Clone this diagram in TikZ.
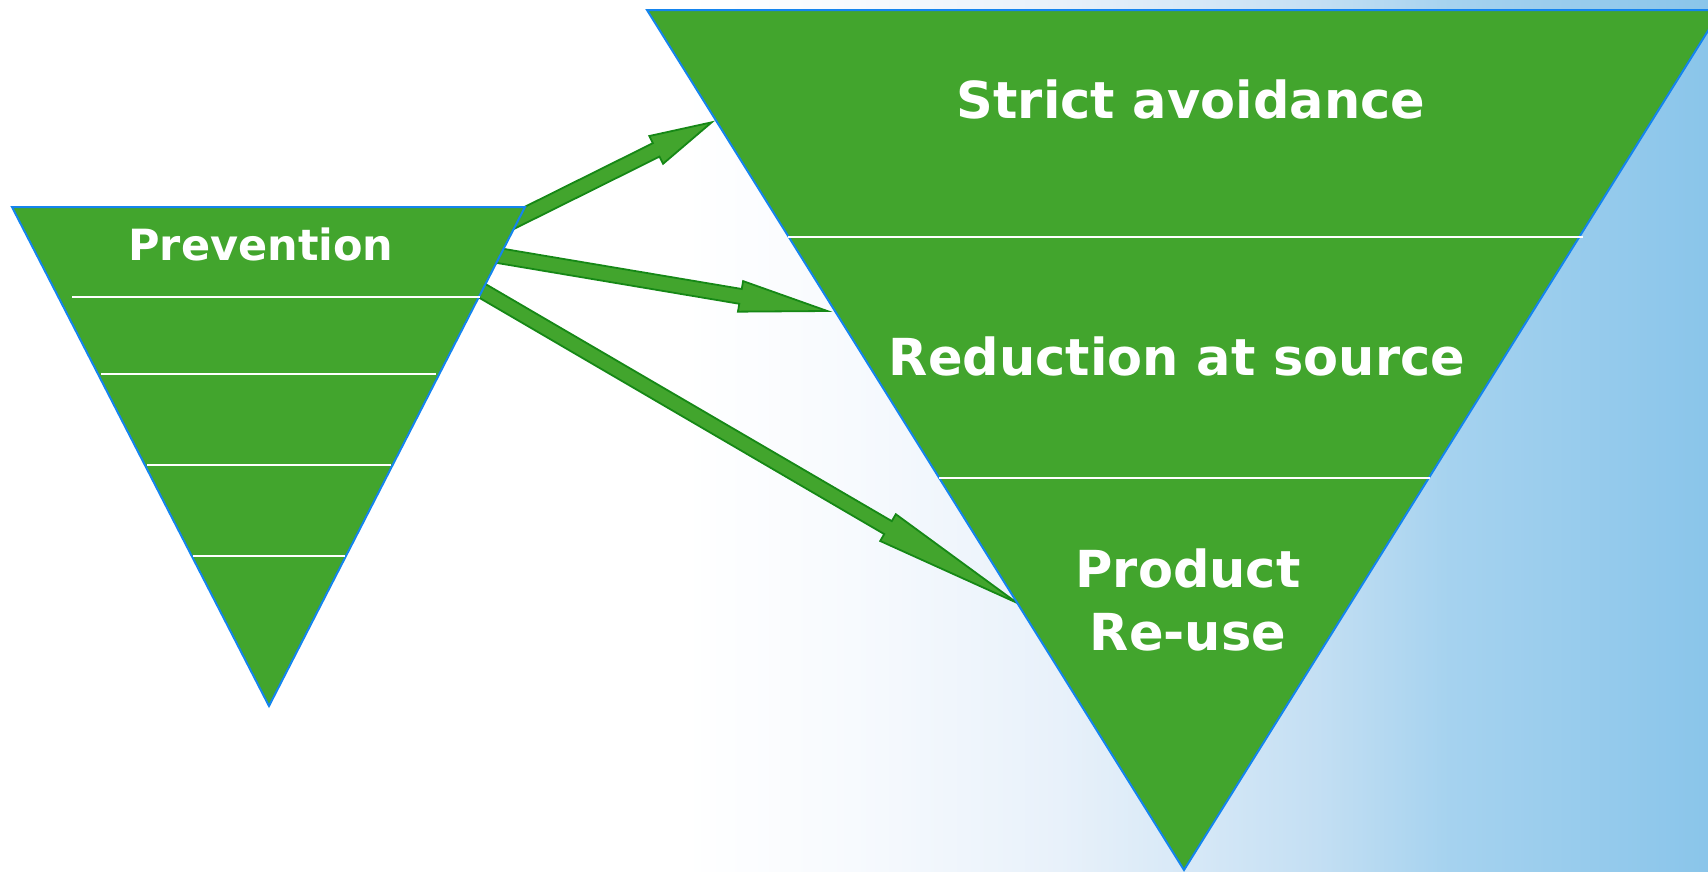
\documentclass[tikz,border=0pt]{standalone}
\usepackage{fontspec}
\setmainfont{DejaVu Sans}
\usetikzlibrary{calc}

\definecolor{leafgreen}{RGB}{66,165,45}
\definecolor{rimgreen}{RGB}{22,136,22}
\definecolor{rimblue}{RGB}{20,132,238}
\definecolor{skyA}{RGB}{247,250,254}
\definecolor{skyB}{RGB}{232,241,250}
\definecolor{skyC}{RGB}{214,232,247}
\definecolor{skyD}{RGB}{196,223,243}
\definecolor{skyE}{RGB}{165,210,239}
\definecolor{skyF}{RGB}{138,197,234}
% the picture covers 25bp..75bp of the shading
\pgfdeclarehorizontalshading{skyfade}{100bp}{color(0bp)=(white); color(45bp)=(white); color(50bp)=(skyA); color(56bp)=(skyB); color(60bp)=(skyC); color(63.5bp)=(skyD); color(67.5bp)=(skyE); color(75bp)=(skyF); color(100bp)=(skyF)}

% block arrow: tail, tip, head length
\newcommand{\fatarrow}[3]{%
	\path ($(#2)!#3!(#1)$) coordinate (hb);
	\filldraw[barrow] ($(#1)!7.5pt!90:(#2)$) -- ($(hb)!7.5pt!90:(#2)$) -- ($(hb)!15.5pt!90:(#2)$) -- (#2)
		-- ($(hb)!15.5pt!-90:(#2)$) -- ($(hb)!7.5pt!-90:(#2)$) -- ($(#1)!7.5pt!-90:(#2)$) -- cycle;}

\begin{document}
\begin{tikzpicture}[x=1pt,y=-1pt]
			\tikzstyle{gtri}=[fill=leafgreen, draw=rimblue, line width=2pt, line join=miter]
			\tikzstyle{band}=[draw=white, line width=2pt]
			\tikzstyle{barrow}=[fill=leafgreen, draw=rimgreen, line width=1.8pt, line join=miter]
			\tikzstyle{tnode}=[text=white, inner sep=0pt, anchor=base]
			\useasboundingbox (0,0) rectangle (1708,871);
			\clip (0,0) rectangle (1708,871);
			\shade[shading=skyfade] (0,0) rectangle (1708,871);
			% arrows, tails hidden under the small funnel
			\coordinate (s1) at (499,228);
			\coordinate (e1) at (711.7,122.3);
			\coordinate (s2) at (483,253);
			\coordinate (e2) at (827.3,311);
			\coordinate (s3) at (468,282.5);
			\coordinate (e3) at (1016.7,602.7);
			\fatarrow{s1}{e1}{62pt}
			\fatarrow{s2}{e2}{88pt}
			\fatarrow{s3}{e3}{149pt}
			% small funnel
			\draw[gtri] (12,207) -- (525,207) -- (269,706) -- cycle;
			\draw[band] (72,297) -- (480,297);
			\draw[band] (101,374) -- (436,374);
			\draw[band] (147,465) -- (391,465);
			\draw[band] (193,556) -- (345,556);
			% big funnel
			\draw[gtri] (647,10) -- (1721,10) -- (1184,870) -- cycle;
			\draw[band] (788,237) -- (1583,237);
			\draw[band] (939,478) -- (1430,478);
			\node[tnode, font=\bfseries\fontsize{43}{50}\selectfont] (prev) at (261,260) {Prevention};
			\node[tnode, font=\bfseries\fontsize{51}{63}\selectfont] (avoid) at (1191,118) {Strict avoidance};
			\node[tnode, font=\bfseries\fontsize{51}{63}\selectfont] (reduce) at (1177,375) {Reduction at source};
			\node[tnode, align=center, font=\bfseries\fontsize{51}{63}\selectfont] (reuse) at (1188,650) {Product\\Re-use};
\end{tikzpicture}
\end{document}
